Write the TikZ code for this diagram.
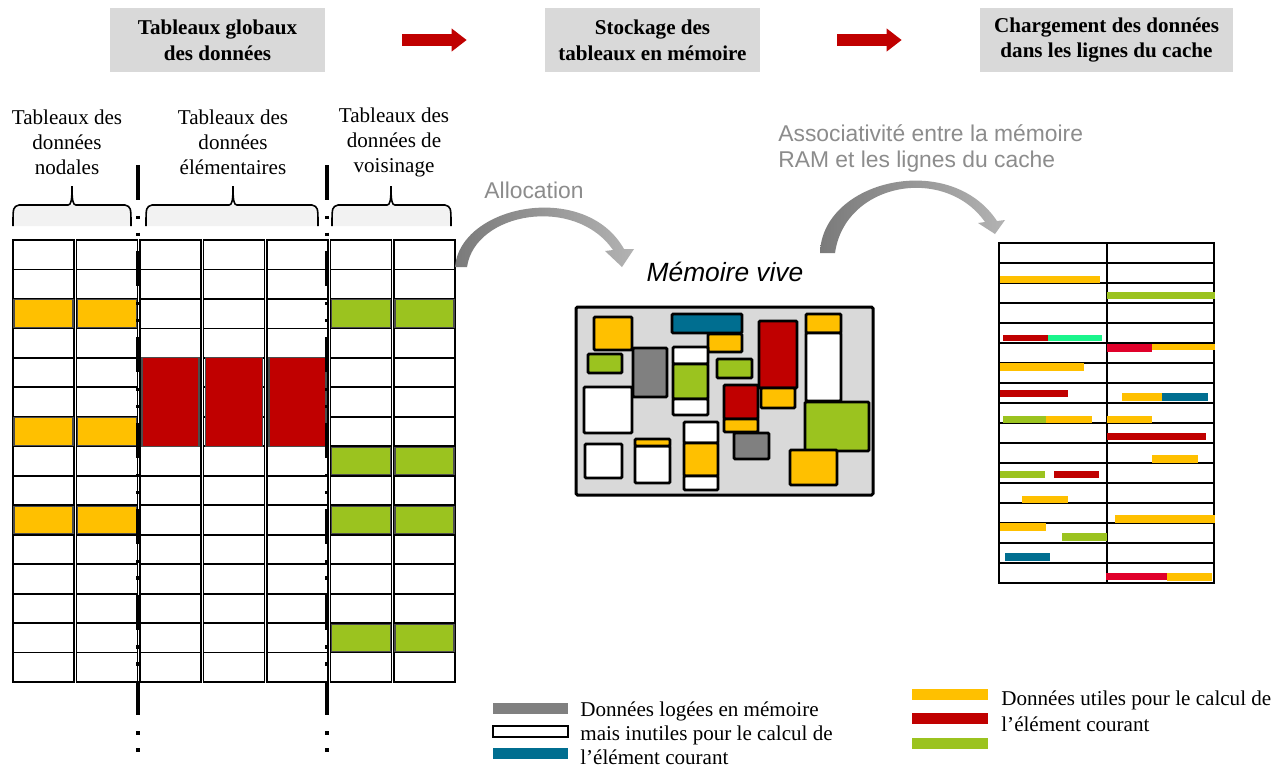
\documentclass[tikz,border=0pt]{standalone}
\usepackage{fontspec}
\setmainfont{Liberation Serif}
\newfontfamily\arialf{Liberation Sans}
\usetikzlibrary{arrows.meta}

\definecolor{cYel}{HTML}{FFC000}
\definecolor{cRed}{HTML}{C00000}
\definecolor{cGrn}{HTML}{9BC31F}
\definecolor{cTeal}{HTML}{006E90}
\definecolor{cGry}{HTML}{808080}
\definecolor{cMem}{HTML}{D9D9D9}
\definecolor{cCrim}{HTML}{E0002A}
\definecolor{cSpring}{HTML}{1AF58C}
\definecolor{cTxtGry}{HTML}{8C8C8C}

% accolade sous les titres de colonnes
\newcommand{\tabbrace}[3]{%
  \fill[gray!10] (#1,226) .. controls (#1,207) .. (#1+6,205) -- (#3-6,205) .. controls (#3,207) .. (#3,226) -- cycle;
  \draw[line width=0.9pt] (#1,226) .. controls (#1,207) .. (#1+6,205) -- (#2-4,205)
    .. controls (#2-1,205) and (#2,201) .. (#2,186) .. controls (#2,201) and (#2+1,205) .. (#2+4,205)
    -- (#3-6,205) .. controls (#3,207) .. (#3,226);}

\begin{document}
\begin{tikzpicture}[x=0.02cm, y=-0.02cm,
    hdr/.style={fill=cMem, minimum height=1.28cm, inner sep=0pt, align=center,
      font=\fontsize{12}{14.7}\selectfont\bfseries},
    flow/.style={draw=cRed, line width=0.24cm, -{Triangle[length=0.3cm,width=0.44cm]},
      shorten <=1.54cm, shorten >=1.56cm},
    coltitle/.style={align=center, inner sep=0pt, font=\fontsize{12}{14.2}\selectfont},
    cell/.style={draw=black, line width=1pt, fill=white},
    sepline/.style={line width=2.27pt,
      dash pattern=on 19.84pt off 9.07pt on 1.98pt off 7.65pt on 1.98pt off 8.39pt},
    memblk/.style={draw=black, line width=1.6pt, rounded corners=0.6pt},
    legtxt/.style={anchor=west, align=left, inner sep=0pt}]

\useasboundingbox (0,0) rectangle (1280,769);
\fill[white] (0,0) rectangle (1280,769);

% etapes
\node[hdr, minimum width=4.3cm] (hdrA) at (217.5,40) {Tableaux globaux\\des données};
\node[hdr, minimum width=4.3cm] (hdrB) at (652.5,40) {Stockage des\\tableaux en mémoire};
\node[hdr, minimum width=5.06cm] (hdrC) at (1106.5,40) {Chargement des données\\dans les lignes du cache};
\draw[flow] (hdrA.east) -- (hdrB.west);
\draw[flow] (hdrB.east) -- (hdrC.west);

% titres des tableaux
\node[coltitle] (lblNod) at (67,142) {Tableaux des\\données\\nodales};
\node[coltitle] (lblElem) at (233,142) {Tableaux des\\données\\élémentaires};
\node[coltitle] (lblVois) at (394,142) {Tableaux des\\données de\\voisinage};
\tabbrace{13}{72}{131}
\tabbrace{146}{233}{318}
\tabbrace{332}{391}{451}

% tableaux globaux
\foreach \c in {0,...,6}
  \foreach \r in {0,...,14}
    \draw[cell] ({13+63.5*\c},{240+29.47*\r}) rectangle ++(61,29.47);
\foreach \c in {0,1}
  \foreach \r in {2,6,9}
    \draw[fill=cYel, draw=black!70, line width=0.6pt] ({14+63.5*\c},{241+29.47*\r}) rectangle ++(59,27.5);
\foreach \c in {5,6}
  \foreach \r in {2,7,9,13}
    \draw[fill=cGrn, draw=black!70, line width=0.6pt] ({14+63.5*\c},{241+29.47*\r}) rectangle ++(59,27.5);
\foreach \c in {2,3,4}
  \draw[fill=cRed, draw=black!70, line width=0.6pt] ({15+63.5*\c},{240+29.47*4}) rectangle ++(57,{3*29.47});
\draw[sepline] (138,165) -- (138,758);
\draw[sepline] (327,165) -- (327,758);

% allocation
\shade[left color=black!52, right color=black!30]
  (455,267) .. controls (460,205) and (585,180) .. (624,249) -- (634,249) -- (622,267)
  -- (605,251) -- (613,250) .. controls (575,195) and (475,212) .. (467,267) -- cycle;
\node[font=\arialf\fontsize{13}{15}\selectfont, text=cTxtGry] (lblAlloc) at (534,190) {Allocation};

% memoire vive
\node[font=\arialf\itshape\fontsize{15}{18}\selectfont] (lblRam) at (725,272) {Mémoire vive};
\draw[fill=cMem, line width=1.7pt, rounded corners=0.8pt] (576,307) rectangle (873,495);
\foreach \xa/\ya/\xb/\yb/\col in {
    594/317/632/350/cYel, 588/354/622/373/cGrn, 633/348/667/397/cGry,
    584/387/632/433/white, 585/444/622/478/white, 635/446/670/483/white,
    635/439/670/446/cYel, 672/314/742/333/cTeal, 708/334/742/352/cYel,
    673/347/708/364/white, 673/364/708/399/cGrn, 673/399/708/415/white,
    717/359/752/378/cGrn, 759/321/797/388/cRed, 761/388/795/408/cYel,
    724/385/758/419/cRed, 724/419/758/432/cYel, 734/433/769/459/cGry,
    684/422/718/443/white, 684/443/718/476/cYel, 684/476/718/490/white,
    806/314/841/333/cYel, 806/333/841/401/white, 805/402/869/451/cGrn,
    790/450/837/485/cYel}
  \draw[memblk, fill=\col] (\xa,\ya) rectangle (\xb,\yb);

% associativite
\shade[left color=black!52, right color=black!30]
  (820,253) .. controls (822,180) and (950,150) .. (997,221) -- (1005,220) -- (995,234)
  -- (978,223) -- (985,222) .. controls (945,165) and (845,182) .. (835,253) -- cycle;
\node[legtxt, text=cTxtGry, font=\arialf\fontsize{13}{15.3}\selectfont] (lblAssoc) at (778,148.5)
  {Associativité entre la mémoire\\RAM et les lignes du cache};

% lignes du cache
\draw[line width=1pt] (999,243) rectangle (1214,583);
\foreach \r in {1,...,16}
  \draw[line width=1pt] (999,{243+20*\r}) -- (1214,{243+20*\r});
\draw[line width=1.2pt] (1107,243) -- (1107,583);
\foreach \xa/\ya/\xb/\yb/\col in {
    1000/276/1100/283/cYel, 1107/292/1215/299/cGrn,
    1003/335/1048/341/cRed, 1048/335/1102/341/cSpring,
    1107/344/1152/352/cCrim, 1152/344/1215/350/cYel,
    1000/363/1084/371/cYel, 1000/390/1068/397/cRed,
    1122/393/1162/401/cYel, 1162/393/1208/401/cTeal,
    1003/416/1046/423/cGrn, 1046/416/1092/423/cYel, 1107/416/1152/423/cYel,
    1107/433/1206/440/cRed, 1152/455/1198/463/cYel,
    1000/471/1045/478/cGrn, 1054/471/1099/478/cRed,
    1022/496/1068/503/cYel, 1115/515/1215/523/cYel,
    1000/523/1046/531/cYel, 1062/533/1107/541/cGrn,
    1005/553/1050/561/cTeal,
    1106/573/1189/580/cCrim, 1167/573/1212/581/cYel}
  \fill[\col] (\xa,\ya) rectangle (\xb,\yb);

% legende
\fill[cGry] (493,703) rectangle (568,714);
\draw[line width=0.6pt] (493,726) rectangle (568,737);
\fill[cTeal] (493,748) rectangle (568,759);
\node[legtxt, font=\fontsize{12}{13.6}\selectfont] (legInut) at (580,733)
  {Données logées en mémoire\\mais inutiles pour le calcul de\\l’élément courant};
\fill[cYel] (912,689) rectangle (988,700);
\fill[cRed] (912,713) rectangle (988,724);
\fill[cGrn] (912,738) rectangle (988,749);
\node[legtxt, font=\fontsize{12}{14.7}\selectfont] (legUtil) at (1001,711)
  {Données utiles pour le calcul de\\l’élément courant};
\end{tikzpicture}
\end{document}
